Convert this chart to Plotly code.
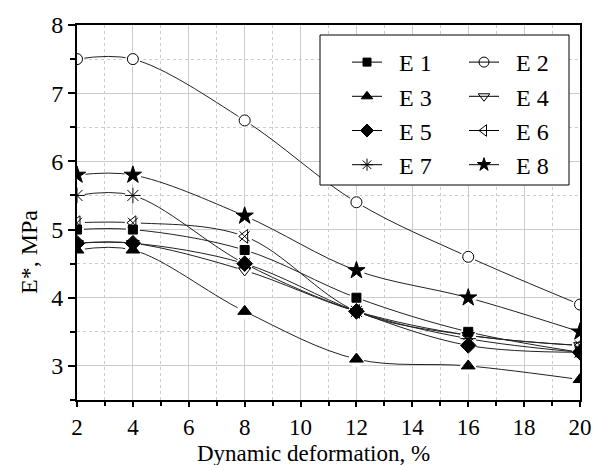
import plotly.graph_objects as go

strain = [2, 4, 8, 12, 16, 20]
names = ["E 1", "E 2", "E 3", "E 4", "E 5", "E 6", "E 7", "E 8"]
E1 = [5.0, 5.0, 4.7, 4.0, 3.5, 3.2]
E2 = [7.5, 7.5, 6.6, 5.4, 4.6, 3.9]
E3 = [4.7, 4.7, 3.8, 3.1, 3.0, 2.8]
E4 = [4.8, 4.8, 4.4, 3.8, 3.45, 3.3]
E5 = [4.8, 4.8, 4.5, 3.8, 3.3, 3.2]
E6 = [5.1, 5.1, 4.9, 3.8, 3.45, 3.3]
E7 = [5.5, 5.5, 4.5, 3.8, 3.4, 3.2]
E8 = [5.8, 5.8, 5.2, 4.4, 4.0, 3.5]
series = [E1, E2, E3, E4, E5, E6, E7, E8]

symbols = ["square", "circle-open", "triangle-up", "triangle-down-open",
           "diamond", "triangle-left-open", "asterisk-open", "star"]
sizes = [9, 11, 12, 11, 12, 12, 13, 13]
halo = [14, 15, 16, 15, 16, 16, 16, 17]

FONT = "Liberation Serif"
fig = go.Figure()

# lines
for ys in series:
    fig.add_trace(go.Scatter(x=strain, y=ys, mode="lines", cliponaxis=True,
                             line=dict(color="#222", width=1, shape="spline"),
                             showlegend=False, hoverinfo="skip"))
# white halos (gap around markers)
for ys, h in zip(series, halo):
    fig.add_trace(go.Scatter(x=strain, y=ys, mode="markers", cliponaxis=True,
                             marker=dict(symbol="circle", size=h, color="white"),
                             showlegend=False, hoverinfo="skip"))
# markers
for i, ys in enumerate(series):
    fig.add_trace(go.Scatter(x=strain, y=ys, mode="markers", cliponaxis=True,
                             marker=dict(symbol=symbols[i], size=sizes[i], color="black",
                                         line=dict(color="black", width=1)),
                             showlegend=False))
    if i == 5:
        fig.add_trace(go.Scatter(x=strain, y=ys, mode="markers", cliponaxis=True,
                                 marker=dict(symbol="x-thin-open", size=10, color="black",
                                             line=dict(color="black", width=1)),
                                 showlegend=False))

# legend entries
for i in range(8):
    fig.add_trace(go.Scatter(x=[None], y=[None], mode="lines+markers",
                             name="\u00a0\u00a0" + names[i],
                             line=dict(color="black", width=1),
                             marker=dict(symbol=symbols[i], size=min(sizes[i], 11) - 1,
                                         color="black", line=dict(color="black", width=1)),
                             legend="legend" if i % 2 == 0 else "legend2"))

L, R, T, B = 77, 15, 25, 65
W, H = 595, 465
pw, ph = W - L - R, H - T - B


def px(x):
    return (x - L) / pw


def py(y):
    return 1 - (y - T) / ph


leg_common = dict(bgcolor="rgba(0,0,0,0)", borderwidth=0,
                  font=dict(family=FONT, size=24, color="black"),
                  xanchor="left", yanchor="top", tracegroupgap=0)

fig.update_layout(
    width=W, height=H,
    margin=dict(l=L, r=R, t=T, b=B, autoexpand=False),
    paper_bgcolor="white", plot_bgcolor="white",
    font=dict(family=FONT, size=24, color="black"),
    legend=dict(x=px(347), y=py(40), **leg_common),
    legend2=dict(x=px(464), y=py(40), **leg_common),
    shapes=[dict(type="rect", xref="paper", yref="paper",
                 x0=px(320), x1=px(569), y0=py(185), y1=py(35),
                 line=dict(color="black", width=1), fillcolor="white", layer="above")],
    annotations=[
        dict(text="E*, MPa", xref="paper", yref="paper", x=px(29), y=py(252),
             xanchor="center", yanchor="middle",
             textangle=-90, showarrow=False, font=dict(family=FONT, size=24)),
        dict(text="Dynamic deformation, %", xref="paper", yref="paper", x=px(313), y=py(453),
             xanchor="center", yanchor="middle",
             showarrow=False, font=dict(family=FONT, size=23)),
    ],
)

fig.update_xaxes(range=[2, 20], dtick=2, tick0=2, automargin=False,
                 showline=True, linecolor="black", linewidth=2, mirror=True,
                 ticks="outside", ticklen=5, tickwidth=1.5, tickcolor="black",
                 showgrid=True, gridcolor="#cccccc", gridwidth=1,
                 minor=dict(dtick=1, tick0=2, ticks="outside", ticklen=4, tickcolor="black",
                            showgrid=True, gridcolor="#cccccc", griddash="dot", gridwidth=1),
                 tickfont=dict(family=FONT, size=23), zeroline=False)
fig.update_yaxes(range=[2.5, 8], dtick=1, tick0=3, automargin=False,
                 showline=True, linecolor="black", linewidth=2, mirror=True,
                 ticks="outside", ticklen=7, tickwidth=1.5, tickcolor="black",
                 showgrid=True, gridcolor="#cccccc", gridwidth=1,
                 minor=dict(dtick=0.5, tick0=2.5, ticks="outside", ticklen=5, tickcolor="black",
                            showgrid=True, gridcolor="#cccccc", griddash="dot", gridwidth=1),
                 tickfont=dict(family=FONT, size=24), zeroline=False)

fig.write_html("out.html")
